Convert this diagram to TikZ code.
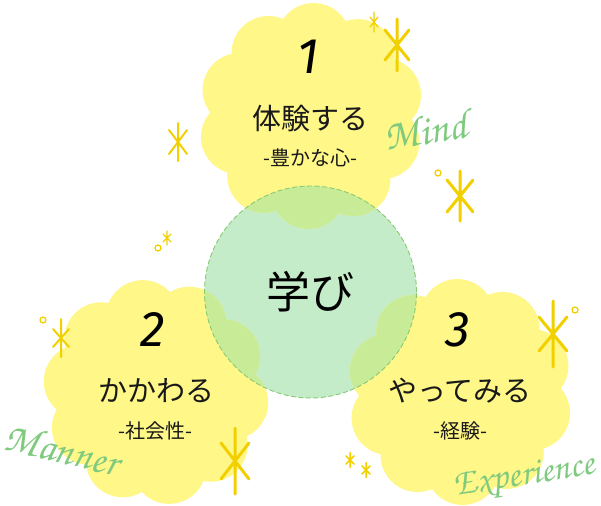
\documentclass[tikz,border=0pt]{standalone}
\usepackage[T1]{fontenc}
\usepackage{fontspec}
\newfontfamily\jpfont{Noto Sans CJK JP}
\newfontfamily\numfont{Fira Sans}
\newcommand\wordfont{\fontencoding{T1}\fontfamily{pzc}\fontseries{mb}\fontshape{it}\selectfont}
\definecolor{cloudyellow}{RGB}{255,247,135}
\definecolor{learngreen}{RGB}{197,236,200}
\definecolor{overlapgreen}{RGB}{200,235,152}
\definecolor{dashgreen}{RGB}{135,202,115}
\definecolor{sparkgold}{RGB}{242,208,0}
\definecolor{wordgreen}{RGB}{128,202,128}
\newcommand\mycloud[3]{(#1,#2) circle[radius=78pt] \foreach \k in {0,...,9}{({#1+76*cos(#3+36*\k)},{#2-76*sin(#3+36*\k)}) circle[radius=37pt]}}
\newcommand\mysparkle[6]{\draw[sparkline, line width=#6pt] (#1,{#2-#3}) -- (#1,{#2+#3}) ({#1-#4},{#2-#5}) -- ({#1+#4},{#2+#5}) ({#1-#4},{#2+#5}) -- ({#1+#4},{#2-#5});}
\begin{document}
\begin{tikzpicture}[x=1pt,y=-1pt,
  sparkline/.style={draw=sparkgold, line cap=round},
  ring/.style={draw=sparkgold, line width=1.3pt},
  numlabel/.style={font=\numfont\itshape\fontsize{50}{50}\selectfont, text=black, inner sep=0},
  mainlabel/.style={font=\jpfont\fontsize{29}{29}\selectfont, text=black!90, inner sep=0},
  sublabel/.style={font=\jpfont\fontsize{20}{20}\selectfont, text=black!90, inner sep=0},
  wordlabel/.style={font=\wordfont, text=wordgreen, inner sep=0}]
\useasboundingbox (0,0) rectangle (601,505);
% learning circle base
\fill[learngreen] (310.5,292) circle[radius=106pt];
% clouds
\fill[cloudyellow] \mycloud{311}{116}{88} \mycloud{156}{392}{100} \mycloud{460}{392}{92};
\begin{scope}
  \clip (310.5,292) circle[radius=106pt];
  \fill[overlapgreen] \mycloud{311}{116}{88} \mycloud{156}{392}{100} \mycloud{460}{392}{92};
\end{scope}
\node[circle, draw=dashgreen, dashed, dash pattern=on 5pt off 2.5pt, line width=0.9pt, minimum size=212pt, inner sep=0,
  font=\jpfont\fontsize{44}{44}\selectfont] (learn) at (310.5,292) {学び};
% cloud texts
\node[numlabel] (n1) at (308,57) {1};
\node[mainlabel] (t1) at (310,118) {体験する};
\node[sublabel] (s1) at (310,158) {-豊かな心-};
\node[numlabel] (n2) at (153,330) {2};
\node[mainlabel] (t2) at (156,391) {かかわる};
\node[sublabel] (s2) at (155,431) {-社会性-};
\node[numlabel] (n3) at (458,330) {3};
\node[mainlabel] (t3) at (460,391) {やってみる};
\node[sublabel] (s3) at (460,431) {-経験-};
% script words
\node[wordlabel, rotate=9, font=\wordfont\fontsize{42}{42}\selectfont] (wmind) at (425,130) {Mind};
\node[wordlabel, rotate=-13, font=\wordfont\fontsize{41}{41}\selectfont] (wmanner) at (62,449) {Manner};
\node[wordlabel, rotate=9, font=\wordfont\fontsize{37}{37}\selectfont] (wexp) at (525,479) {Experience};
% sparkles
\mysparkle{374}{22}{10}{4}{5}{1.2}
\mysparkle{397}{45}{26}{12}{15}{3}
\mysparkle{460}{196}{25}{13}{16}{3}
\mysparkle{178}{142}{19}{9}{12}{2}
\mysparkle{167}{238}{7}{4}{4}{1.2}
\mysparkle{61}{338}{19}{8}{9}{2}
\mysparkle{235}{461}{33}{14}{18}{3}
\mysparkle{553}{334}{33}{14}{17}{3}
\mysparkle{350}{460}{7.5}{4}{4}{1.5}
\mysparkle{366}{470}{7.5}{4}{4}{1.5}
\draw[ring] (438,173) circle[radius=3pt];
\draw[ring] (158,248) circle[radius=3pt];
\draw[ring] (43,320) circle[radius=3pt];
\draw[ring] (575,310) circle[radius=3pt];
\end{tikzpicture}
\end{document}
